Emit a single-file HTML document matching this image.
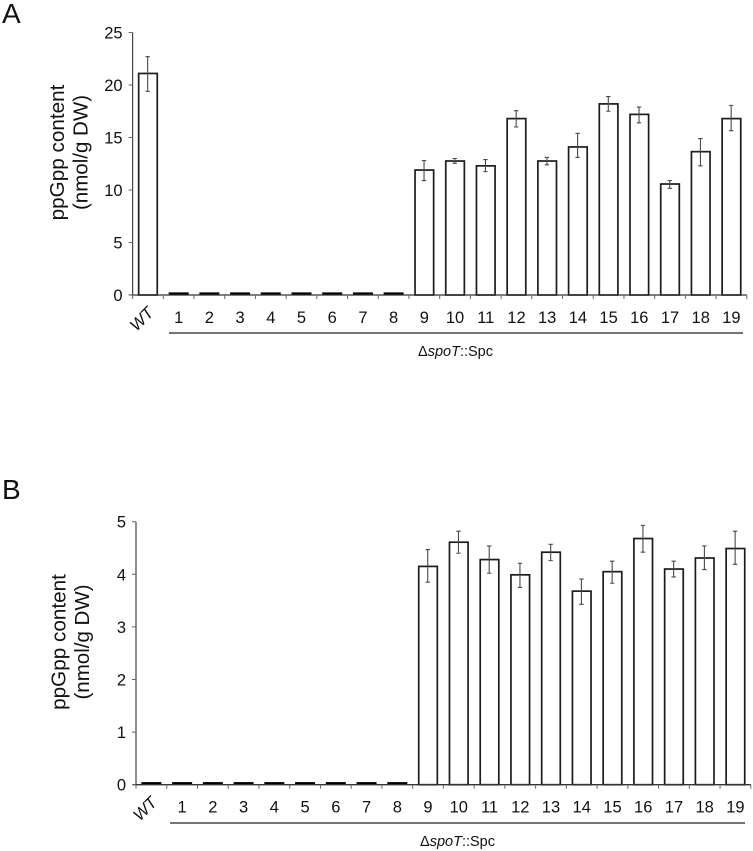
<!DOCTYPE html>
<html>
<head>
<meta charset="utf-8">
<title>ppGpp content</title>
<style>
html,body{margin:0;padding:0;background:#fff;}
svg{display:block;font-family:"Liberation Sans",Arial,sans-serif;fill:#111;}
</style>
</head>
<body>
<svg id="figure" width="753" height="851" viewBox="0 0 753 851" xmlns="http://www.w3.org/2000/svg">
<rect width="753" height="851" fill="#fff"/>
<text x="2" y="23" font-size="28">A</text>
<text x="2" y="499" font-size="28">B</text>
<text transform="translate(64 152.5) rotate(-90)" text-anchor="middle" font-size="20.7">ppGpp content</text>
<text transform="translate(87.5 152.5) rotate(-90)" text-anchor="middle" font-size="20.5">(nmol/g DW)</text>
<text transform="translate(65.5 642) rotate(-90)" text-anchor="middle" font-size="20.7">ppGpp content</text>
<text transform="translate(89 642) rotate(-90)" text-anchor="middle" font-size="20.5">(nmol/g DW)</text>
<text x="418" y="356" font-size="14.5">&#916;<tspan font-style="italic">spoT</tspan>::Spc</text>
<text x="420" y="846" font-size="14.5">&#916;<tspan font-style="italic">spoT</tspan>::Spc</text>
<line x1="169" x2="743" y1="333" y2="333" stroke="#222" stroke-width="1.2"/>
<line x1="170" x2="745" y1="823" y2="823" stroke="#222" stroke-width="1.2"/>
</svg>
<script>
const categories = ["WT","1","2","3","4","5","6","7","8","9","10","11","12","13","14","15","16","17","18","19"];

const yTicksA = [0,5,10,15,20,25];
const valuesA = [21.1,0.05,0.05,0.05,0.05,0.05,0.05,0.05,0.05,11.9,12.76,12.3,16.8,12.76,14.1,18.2,17.2,10.57,13.65,16.8];
const errHighA = [22.7,null,null,null,null,null,null,null,null,12.8,13.0,12.9,17.55,13.1,15.4,18.9,17.9,10.9,14.9,18.06];
const errLowA = [19.4,null,null,null,null,null,null,null,null,10.9,12.54,11.75,16.0,12.4,13.1,17.5,16.4,10.16,12.3,15.65];

const yTicksB = [0,1,2,3,4,5];
const valuesB = [0.01,0.01,0.01,0.01,0.01,0.01,0.01,0.01,0.01,4.15,4.61,4.28,3.99,4.42,3.68,4.05,4.68,4.1,4.31,4.49];
const errHighB = [null,null,null,null,null,null,null,null,null,4.47,4.82,4.54,4.21,4.57,3.91,4.25,4.93,4.25,4.54,4.82];
const errLowB = [null,null,null,null,null,null,null,null,null,3.85,4.4,4.02,3.75,4.26,3.43,3.83,4.42,3.95,4.09,4.19];

const svg = document.getElementById('figure');
const NS = 'http://www.w3.org/2000/svg';

function make(tag, attrs, text) {
  const el = document.createElementNS(NS, tag);
  for (const k in attrs) el.setAttribute(k, attrs[k]);
  if (text !== undefined) el.textContent = text;
  svg.appendChild(el);
  return el;
}

function drawPanel(p, values, errHigh, errLow, yTicks) {
  const yMax = yTicks[yTicks.length - 1];
  const y = v => p.y0 - (v / yMax) * (p.y0 - p.yTop);
  const step = (p.xEnd - p.x0) / categories.length;
  const xc = i => p.x0 + step * (i + 0.5);
  const barW = 18.6;

  // bars
  values.forEach((v, i) => {
    let bar;
    if (v < 0.02 * yMax) {
      const h = Math.max(2.2, p.y0 - y(v));
      bar = make('rect', {x: xc(i) - 10, y: p.y0 - h - 0.4, width: 20, height: h, fill: '#000'});
    } else {
      bar = make('rect', {x: xc(i) - barW / 2, y: y(v), width: barW, height: p.y0 - y(v), fill: '#fff', stroke: '#1c1c1c', 'stroke-width': 1.7});
    }
    
    
  });

  // error bars
  values.forEach((v, i) => {
    if (errHigh[i] === null) return;
    const x = xc(i) - 0.3;
    const d = 'M' + x + ' ' + y(errHigh[i]) + 'V' + y(errLow[i]) +
      'M' + (x - 2.2) + ' ' + y(errHigh[i]) + 'H' + (x + 2.2) +
      'M' + (x - 2.2) + ' ' + y(errLow[i]) + 'H' + (x + 2.2);
    const eb = make('path', {d: d, fill: 'none', stroke: '#4a4a4a', 'stroke-width': 1.1});
    
    
  });

  // axes
  const yAxis = make('line', {x1: p.x0, x2: p.x0, y1: p.yTop, y2: p.y0, stroke: '#444', 'stroke-width': 1.2});
  
  
  const xAxis = make('line', {x1: p.x0 - 3, x2: p.xEnd, y1: p.y0, y2: p.y0, stroke: '#333', 'stroke-width': 1.3});
  
  

  // y ticks and labels
  yTicks.forEach(t => {
    const tick = make('line', {x1: p.x0 - 4, x2: p.x0, y1: y(t), y2: y(t), stroke: '#666', 'stroke-width': 1});
    
    
    const label = make('text', {x: p.x0 - 10, y: y(t) + 6, 'text-anchor': 'end', 'font-size': 16.5}, String(t));
    
    
  });

  // x ticks
  for (let i = 0; i <= categories.length; i++) {
    const tx = p.x0 + step * i;
    const tick = make('line', {x1: tx, x2: tx, y1: p.y0, y2: p.y0 + 4, stroke: '#666', 'stroke-width': 1});
    
    
  }

  // x labels
  categories.forEach((c, i) => {
    let label;
    if (c === 'WT') {
      const lx = xc(i) - 11.5;
      const ly = p.y0 + 37;
      label = make('text', {transform: 'translate(' + lx + ' ' + ly + ') rotate(-45)', 'font-size': 16.5, 'font-style': 'italic', 'text-anchor': 'start'}, c);
    } else {
      label = make('text', {x: xc(i), y: p.y0 + 28, 'text-anchor': 'middle', 'font-size': 16.5}, c);
    }
    
    
  });
}

drawPanel({id: 'a', x0: 132.6, xEnd: 746.8, y0: 295, yTop: 32.5}, valuesA, errHighA, errLowA, yTicksA);
drawPanel({id: 'b', x0: 136, xEnd: 750.8, y0: 784.7, yTop: 521.7}, valuesB, errHighB, errLowB, yTicksB);
</script>
</body>
</html>
